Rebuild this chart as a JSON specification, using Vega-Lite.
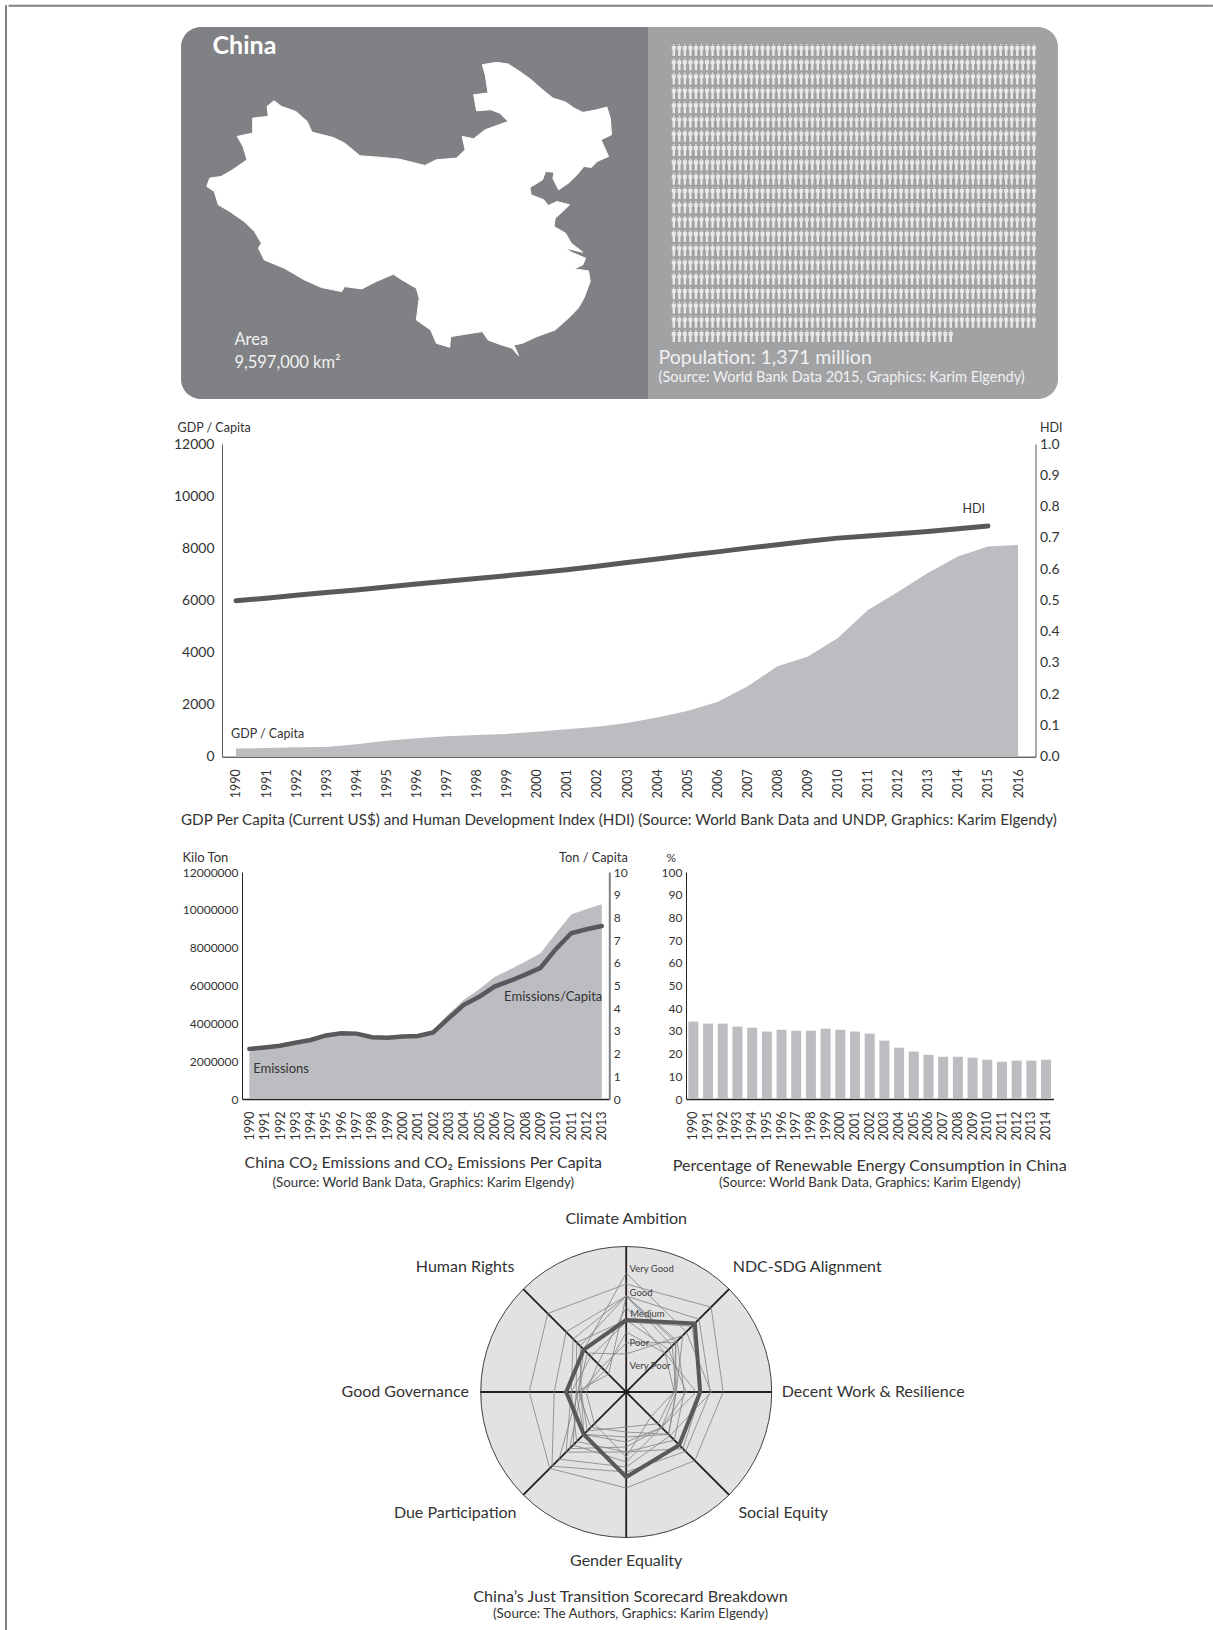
{"$schema":"https://vega.github.io/schema/vega-lite/v6.json","background":"white","padding":{"left":5,"top":4,"right":0,"bottom":0},"config":{"view":{"stroke":null},"font":"Lato","text":{"font":"Lato"},"axis":{"grid":false,"ticks":false,"labelFont":"Lato","titleFont":"Lato","labelColor":"#333333","titleColor":"#333333","titleFontWeight":"normal","labelOverlap":false,"labelFlush":false}},"datasets":{"map":[{"o":0,"x":545,"y":150},{"o":1,"x":570,"y":143},{"o":2,"x":590,"y":148},{"o":3,"x":610,"y":170},{"o":4,"x":630,"y":195},{"o":5,"x":650,"y":225},{"o":6,"x":668,"y":250},{"o":7,"x":690,"y":262},{"o":8,"x":705,"y":280},{"o":9,"x":720,"y":293},{"o":10,"x":745,"y":285},{"o":11,"x":762,"y":277},{"o":12,"x":768,"y":310},{"o":13,"x":770,"y":360},{"o":14,"x":752,"y":375},{"o":15,"x":757,"y":395},{"o":16,"x":765,"y":425},{"o":17,"x":745,"y":440},{"o":18,"x":735,"y":458},{"o":19,"x":722,"y":455},{"o":20,"x":710,"y":480},{"o":21,"x":695,"y":505},{"o":22,"x":678,"y":525},{"o":23,"x":672,"y":505},{"o":24,"x":668,"y":490},{"o":25,"x":670,"y":472},{"o":26,"x":655,"y":470},{"o":27,"x":650,"y":495},{"o":28,"x":628,"y":518},{"o":29,"x":630,"y":540},{"o":30,"x":652,"y":555},{"o":31,"x":660,"y":572},{"o":32,"x":675,"y":560},{"o":33,"x":697,"y":570},{"o":34,"x":685,"y":590},{"o":35,"x":672,"y":610},{"o":36,"x":670,"y":635},{"o":37,"x":690,"y":655},{"o":38,"x":700,"y":685},{"o":39,"x":720,"y":712},{"o":40,"x":690,"y":700},{"o":41,"x":700,"y":712},{"o":42,"x":725,"y":730},{"o":43,"x":720,"y":750},{"o":44,"x":705,"y":762},{"o":45,"x":730,"y":768},{"o":46,"x":733,"y":800},{"o":47,"x":722,"y":850},{"o":48,"x":712,"y":880},{"o":49,"x":695,"y":910},{"o":50,"x":672,"y":945},{"o":51,"x":640,"y":965},{"o":52,"x":615,"y":985},{"o":53,"x":600,"y":990},{"o":54,"x":608,"y":1022},{"o":55,"x":597,"y":1000},{"o":56,"x":575,"y":988},{"o":57,"x":555,"y":975},{"o":58,"x":545,"y":950},{"o":59,"x":515,"y":958},{"o":60,"x":490,"y":965},{"o":61,"x":488,"y":997},{"o":62,"x":465,"y":985},{"o":63,"x":455,"y":945},{"o":64,"x":430,"y":915},{"o":65,"x":435,"y":850},{"o":66,"x":430,"y":820},{"o":67,"x":405,"y":795},{"o":68,"x":390,"y":778},{"o":69,"x":360,"y":800},{"o":70,"x":335,"y":822},{"o":71,"x":305,"y":815},{"o":72,"x":300,"y":830},{"o":73,"x":265,"y":818},{"o":74,"x":235,"y":795},{"o":75,"x":200,"y":760},{"o":76,"x":165,"y":735},{"o":77,"x":155,"y":700},{"o":78,"x":160,"y":685},{"o":79,"x":148,"y":650},{"o":80,"x":130,"y":620},{"o":81,"x":105,"y":590},{"o":82,"x":85,"y":570},{"o":83,"x":78,"y":530},{"o":84,"x":65,"y":515},{"o":85,"x":70,"y":490},{"o":86,"x":90,"y":485},{"o":87,"x":110,"y":465},{"o":88,"x":135,"y":435},{"o":89,"x":128,"y":395},{"o":90,"x":118,"y":365},{"o":91,"x":145,"y":355},{"o":92,"x":145,"y":310},{"o":93,"x":172,"y":305},{"o":94,"x":170,"y":275},{"o":95,"x":182,"y":258},{"o":96,"x":195,"y":275},{"o":97,"x":220,"y":290},{"o":98,"x":240,"y":320},{"o":99,"x":248,"y":352},{"o":100,"x":285,"y":368},{"o":101,"x":305,"y":385},{"o":102,"x":332,"y":423},{"o":103,"x":370,"y":428},{"o":104,"x":400,"y":433},{"o":105,"x":445,"y":452},{"o":106,"x":465,"y":435},{"o":107,"x":500,"y":430},{"o":108,"x":515,"y":405},{"o":109,"x":510,"y":365},{"o":110,"x":530,"y":372},{"o":111,"x":550,"y":345},{"o":112,"x":590,"y":320},{"o":113,"x":575,"y":295},{"o":114,"x":560,"y":285},{"o":115,"x":535,"y":288},{"o":116,"x":530,"y":240},{"o":117,"x":555,"y":235},{"o":118,"x":550,"y":180},{"o":119,"x":545,"y":150}],"gdp":[{"year":1990,"gdp":318},{"year":1991,"gdp":333},{"year":1992,"gdp":366},{"year":1993,"gdp":377},{"year":1994,"gdp":473},{"year":1995,"gdp":610},{"year":1996,"gdp":709},{"year":1997,"gdp":782},{"year":1998,"gdp":829},{"year":1999,"gdp":873},{"year":2000,"gdp":959},{"year":2001,"gdp":1053},{"year":2002,"gdp":1149},{"year":2003,"gdp":1289},{"year":2004,"gdp":1509},{"year":2005,"gdp":1753},{"year":2006,"gdp":2099},{"year":2007,"gdp":2693},{"year":2008,"gdp":3468},{"year":2009,"gdp":3832},{"year":2010,"gdp":4550},{"year":2011,"gdp":5618},{"year":2012,"gdp":6317},{"year":2013,"gdp":7051},{"year":2014,"gdp":7679},{"year":2015,"gdp":8069},{"year":2016,"gdp":8123}],"hdi":[{"year":1990,"hdi":0.499},{"year":1991,"hdi":0.507},{"year":1992,"hdi":0.516},{"year":1993,"hdi":0.525},{"year":1994,"hdi":0.533},{"year":1995,"hdi":0.543},{"year":1996,"hdi":0.552},{"year":1997,"hdi":0.561},{"year":1998,"hdi":0.57},{"year":1999,"hdi":0.579},{"year":2000,"hdi":0.588},{"year":2001,"hdi":0.598},{"year":2002,"hdi":0.609},{"year":2003,"hdi":0.621},{"year":2004,"hdi":0.632},{"year":2005,"hdi":0.644},{"year":2006,"hdi":0.655},{"year":2007,"hdi":0.667},{"year":2008,"hdi":0.678},{"year":2009,"hdi":0.689},{"year":2010,"hdi":0.699},{"year":2011,"hdi":0.706},{"year":2012,"hdi":0.713},{"year":2013,"hdi":0.72},{"year":2014,"hdi":0.729},{"year":2015,"hdi":0.738}],"co2":[{"year":1990,"kt":2500000,"pc":2.2},{"year":1991,"kt":2650000,"pc":2.27},{"year":1992,"kt":2750000,"pc":2.35},{"year":1993,"kt":2930000,"pc":2.48},{"year":1994,"kt":3080000,"pc":2.6},{"year":1995,"kt":3320000,"pc":2.8},{"year":1996,"kt":3440000,"pc":2.9},{"year":1997,"kt":3440000,"pc":2.88},{"year":1998,"kt":3220000,"pc":2.72},{"year":1999,"kt":3200000,"pc":2.7},{"year":2000,"kt":3350000,"pc":2.75},{"year":2001,"kt":3400000,"pc":2.78},{"year":2002,"kt":3650000,"pc":2.93},{"year":2003,"kt":4500000,"pc":3.55},{"year":2004,"kt":5250000,"pc":4.15},{"year":2005,"kt":5800000,"pc":4.5},{"year":2006,"kt":6450000,"pc":4.95},{"year":2007,"kt":6850000,"pc":5.2},{"year":2008,"kt":7250000,"pc":5.48},{"year":2009,"kt":7700000,"pc":5.78},{"year":2010,"kt":8750000,"pc":6.6},{"year":2011,"kt":9750000,"pc":7.3},{"year":2012,"kt":10050000,"pc":7.48},{"year":2013,"kt":10300000,"pc":7.62}],"ren":[{"year":1990,"v":34.1},{"year":1991,"v":33.2},{"year":1992,"v":33.2},{"year":1993,"v":31.9},{"year":1994,"v":31.4},{"year":1995,"v":29.7},{"year":1996,"v":30.5},{"year":1997,"v":30.1},{"year":1998,"v":30.1},{"year":1999,"v":31},{"year":2000,"v":30.5},{"year":2001,"v":29.7},{"year":2002,"v":28.8},{"year":2003,"v":25.7},{"year":2004,"v":22.6},{"year":2005,"v":20.9},{"year":2006,"v":19.5},{"year":2007,"v":18.6},{"year":2008,"v":18.6},{"year":2009,"v":18.2},{"year":2010,"v":17.3},{"year":2011,"v":16.4},{"year":2012,"v":16.9},{"year":2013,"v":16.9},{"year":2014,"v":17.3}],"thin":[{"s":"A","o":0,"x":0,"y":108},{"s":"A","o":1,"x":84.9,"y":84.9},{"s":"A","o":2,"x":97,"y":0},{"s":"A","o":3,"x":68.6,"y":-68.6},{"s":"A","o":4,"x":0,"y":-96},{"s":"A","o":5,"x":-76.4,"y":-76.4},{"s":"A","o":6,"x":-97,"y":0},{"s":"A","o":7,"x":-78.5,"y":78.5},{"s":"A","o":8,"x":0,"y":108},{"s":"B","o":0,"x":0,"y":96},{"s":"B","o":1,"x":72.8,"y":72.8},{"s":"B","o":2,"x":84,"y":0},{"s":"B","o":3,"x":59.4,"y":-59.4},{"s":"B","o":4,"x":0,"y":-80},{"s":"B","o":5,"x":-74.2,"y":-74.2},{"s":"B","o":6,"x":-72,"y":0},{"s":"B","o":7,"x":-60.1,"y":60.1},{"s":"B","o":8,"x":0,"y":96},{"s":"C","o":0,"x":0,"y":119},{"s":"C","o":1,"x":60.1,"y":60.1},{"s":"C","o":2,"x":85,"y":0},{"s":"C","o":3,"x":43.8,"y":-43.8},{"s":"C","o":4,"x":0,"y":-75},{"s":"C","o":5,"x":-67.2,"y":-67.2},{"s":"C","o":6,"x":-48,"y":0},{"s":"C","o":7,"x":-42.4,"y":42.4},{"s":"C","o":8,"x":0,"y":119},{"s":"D","o":0,"x":0,"y":96},{"s":"D","o":1,"x":49.5,"y":49.5},{"s":"D","o":2,"x":50,"y":0},{"s":"D","o":3,"x":35.4,"y":-35.4},{"s":"D","o":4,"x":0,"y":-50},{"s":"D","o":5,"x":-42.4,"y":-42.4},{"s":"D","o":6,"x":-45,"y":0},{"s":"D","o":7,"x":-46,"y":46},{"s":"D","o":8,"x":0,"y":96},{"s":"E","o":0,"x":0,"y":70},{"s":"E","o":1,"x":65.8,"y":65.8},{"s":"E","o":2,"x":75,"y":0},{"s":"E","o":3,"x":56.6,"y":-56.6},{"s":"E","o":4,"x":0,"y":-60},{"s":"E","o":5,"x":-49.5,"y":-49.5},{"s":"E","o":6,"x":-55,"y":0},{"s":"E","o":7,"x":-35.4,"y":35.4},{"s":"E","o":8,"x":0,"y":70},{"s":"F","o":0,"x":0,"y":38},{"s":"F","o":1,"x":56.6,"y":56.6},{"s":"F","o":2,"x":50,"y":0},{"s":"F","o":3,"x":42.4,"y":-42.4},{"s":"F","o":4,"x":0,"y":-40},{"s":"F","o":5,"x":-35.4,"y":-35.4},{"s":"F","o":6,"x":-48,"y":0},{"s":"F","o":7,"x":-38.9,"y":38.9},{"s":"F","o":8,"x":0,"y":38},{"s":"G","o":0,"x":0,"y":49},{"s":"G","o":1,"x":49.5,"y":49.5},{"s":"G","o":2,"x":48,"y":0},{"s":"G","o":3,"x":31.8,"y":-31.8},{"s":"G","o":4,"x":0,"y":-35},{"s":"G","o":5,"x":-38.9,"y":-38.9},{"s":"G","o":6,"x":-45,"y":0},{"s":"G","o":7,"x":-24.7,"y":24.7},{"s":"G","o":8,"x":0,"y":49},{"s":"H","o":0,"x":0,"y":96},{"s":"H","o":1,"x":46,"y":46},{"s":"H","o":2,"x":50,"y":0},{"s":"H","o":3,"x":42.4,"y":-42.4},{"s":"H","o":4,"x":0,"y":-45},{"s":"H","o":5,"x":-42.4,"y":-42.4},{"s":"H","o":6,"x":-50,"y":0},{"s":"H","o":7,"x":-17.7,"y":17.7},{"s":"H","o":8,"x":0,"y":96},{"s":"I","o":0,"x":0,"y":60},{"s":"I","o":1,"x":38.9,"y":38.9},{"s":"I","o":2,"x":70,"y":0},{"s":"I","o":3,"x":35.4,"y":-35.4},{"s":"I","o":4,"x":0,"y":-55},{"s":"I","o":5,"x":-56.6,"y":-56.6},{"s":"I","o":6,"x":-45,"y":0},{"s":"I","o":7,"x":-21.2,"y":21.2},{"s":"I","o":8,"x":0,"y":60},{"s":"J","o":0,"x":0,"y":96},{"s":"J","o":1,"x":50.9,"y":50.9},{"s":"J","o":2,"x":58,"y":0},{"s":"J","o":3,"x":48.1,"y":-48.1},{"s":"J","o":4,"x":0,"y":-60},{"s":"J","o":5,"x":-60.1,"y":-60.1},{"s":"J","o":6,"x":-55,"y":0},{"s":"J","o":7,"x":-53,"y":53},{"s":"J","o":8,"x":0,"y":96},{"s":"K","o":0,"x":0,"y":85},{"s":"K","o":1,"x":38.9,"y":38.9},{"s":"K","o":2,"x":48,"y":0},{"s":"K","o":3,"x":24.7,"y":-24.7},{"s":"K","o":4,"x":0,"y":-65},{"s":"K","o":5,"x":-31.8,"y":-31.8},{"s":"K","o":6,"x":-40,"y":0},{"s":"K","o":7,"x":-28.3,"y":28.3},{"s":"K","o":8,"x":0,"y":85},{"s":"L","o":0,"x":0,"y":72},{"s":"L","o":1,"x":42.4,"y":42.4},{"s":"L","o":2,"x":60,"y":0},{"s":"L","o":3,"x":35.4,"y":-35.4},{"s":"L","o":4,"x":0,"y":-70},{"s":"L","o":5,"x":-53,"y":-53},{"s":"L","o":6,"x":-50,"y":0},{"s":"L","o":7,"x":-49.5,"y":49.5},{"s":"L","o":8,"x":0,"y":72}],"thick":[{"o":0,"x":0,"y":72},{"o":1,"x":68.6,"y":68.6},{"o":2,"x":74,"y":0},{"o":3,"x":53,"y":-53},{"o":4,"x":0,"y":-85},{"o":5,"x":-42.4,"y":-42.4},{"o":6,"x":-60,"y":0},{"o":7,"x":-42.4,"y":42.4},{"o":8,"x":0,"y":72}]},"spacing":0,"hconcat":[{"width":1,"height":1603,"data":{"values":[{"x":0,"y":-22,"y2":1603}]},"mark":{"type":"rule","stroke":"#808285","strokeWidth":2},"encoding":{"x":{"field":"x","type":"quantitative","axis":null,"scale":{"domain":[0,1]}},"y":{"field":"y","type":"quantitative","axis":null,"scale":{"domain":[0,1603],"reverse":true}},"y2":{"field":"y2"}}},{"spacing":0,"vconcat":[{"width":877,"height":372,"resolve":{"scale":{"x":"independent","y":"independent"}},"layer":[{"data":{"values":[{"x":20,"x2":835,"y":37,"y2":1152}]},"mark":{"type":"rect","fill":"#808184","cornerRadiusTopLeft":20,"cornerRadiusBottomLeft":20},"encoding":{"x":{"field":"x","type":"quantitative","axis":null,"scale":{"domain":[20,1548]}},"x2":{"field":"x2"},"y":{"field":"y","type":"quantitative","axis":null,"scale":{"domain":[37,1152],"reverse":true}},"y2":{"field":"y2"}}},{"data":{"values":[{"x":835,"x2":1548,"y":37,"y2":1152}]},"mark":{"type":"rect","fill":"#a1a2a4","cornerRadiusTopRight":20,"cornerRadiusBottomRight":20},"encoding":{"x":{"field":"x","type":"quantitative","axis":null,"scale":{"domain":[20,1548]}},"x2":{"field":"x2"},"y":{"field":"y","type":"quantitative","axis":null,"scale":{"domain":[37,1152],"reverse":true}},"y2":{"field":"y2"}}},{"data":{"name":"map"},"mark":{"type":"line","fill":"#ffffff","stroke":"#ffffff","strokeWidth":1,"filled":true},"encoding":{"x":{"field":"x","type":"quantitative","axis":null,"scale":{"domain":[20,1548]}},"y":{"field":"y","type":"quantitative","axis":null,"scale":{"domain":[37,1152],"reverse":true}},"order":{"field":"o"}}},{"data":{"values":[{"r":0,"c":[0,1,2,3,4,5,6,7,8,9,10,11,12,13,14,15,16,17,18,19,20,21,22,23,24,25,26,27,28,29,30,31,32,33,34,35,36,37,38,39,40,41,42,43,44,45,46,47,48,49,50,51,52,53,54,55,56,57,58,59,60,61,62,63,64,65]},{"r":1,"c":[0,1,2,3,4,5,6,7,8,9,10,11,12,13,14,15,16,17,18,19,20,21,22,23,24,25,26,27,28,29,30,31,32,33,34,35,36,37,38,39,40,41,42,43,44,45,46,47,48,49,50,51,52,53,54,55,56,57,58,59,60,61,62,63,64,65]},{"r":2,"c":[0,1,2,3,4,5,6,7,8,9,10,11,12,13,14,15,16,17,18,19,20,21,22,23,24,25,26,27,28,29,30,31,32,33,34,35,36,37,38,39,40,41,42,43,44,45,46,47,48,49,50,51,52,53,54,55,56,57,58,59,60,61,62,63,64,65]},{"r":3,"c":[0,1,2,3,4,5,6,7,8,9,10,11,12,13,14,15,16,17,18,19,20,21,22,23,24,25,26,27,28,29,30,31,32,33,34,35,36,37,38,39,40,41,42,43,44,45,46,47,48,49,50,51,52,53,54,55,56,57,58,59,60,61,62,63,64,65]},{"r":4,"c":[0,1,2,3,4,5,6,7,8,9,10,11,12,13,14,15,16,17,18,19,20,21,22,23,24,25,26,27,28,29,30,31,32,33,34,35,36,37,38,39,40,41,42,43,44,45,46,47,48,49,50,51,52,53,54,55,56,57,58,59,60,61,62,63,64,65]},{"r":5,"c":[0,1,2,3,4,5,6,7,8,9,10,11,12,13,14,15,16,17,18,19,20,21,22,23,24,25,26,27,28,29,30,31,32,33,34,35,36,37,38,39,40,41,42,43,44,45,46,47,48,49,50,51,52,53,54,55,56,57,58,59,60,61,62,63,64,65]},{"r":6,"c":[0,1,2,3,4,5,6,7,8,9,10,11,12,13,14,15,16,17,18,19,20,21,22,23,24,25,26,27,28,29,30,31,32,33,34,35,36,37,38,39,40,41,42,43,44,45,46,47,48,49,50,51,52,53,54,55,56,57,58,59,60,61,62,63,64,65]},{"r":7,"c":[0,1,2,3,4,5,6,7,8,9,10,11,12,13,14,15,16,17,18,19,20,21,22,23,24,25,26,27,28,29,30,31,32,33,34,35,36,37,38,39,40,41,42,43,44,45,46,47,48,49,50,51,52,53,54,55,56,57,58,59,60,61,62,63,64,65]},{"r":8,"c":[0,1,2,3,4,5,6,7,8,9,10,11,12,13,14,15,16,17,18,19,20,21,22,23,24,25,26,27,28,29,30,31,32,33,34,35,36,37,38,39,40,41,42,43,44,45,46,47,48,49,50,51,52,53,54,55,56,57,58,59,60,61,62,63,64,65]},{"r":9,"c":[0,1,2,3,4,5,6,7,8,9,10,11,12,13,14,15,16,17,18,19,20,21,22,23,24,25,26,27,28,29,30,31,32,33,34,35,36,37,38,39,40,41,42,43,44,45,46,47,48,49,50,51,52,53,54,55,56,57,58,59,60,61,62,63,64,65]},{"r":10,"c":[0,1,2,3,4,5,6,7,8,9,10,11,12,13,14,15,16,17,18,19,20,21,22,23,24,25,26,27,28,29,30,31,32,33,34,35,36,37,38,39,40,41,42,43,44,45,46,47,48,49,50,51,52,53,54,55,56,57,58,59,60,61,62,63,64,65]},{"r":11,"c":[0,1,2,3,4,5,6,7,8,9,10,11,12,13,14,15,16,17,18,19,20,21,22,23,24,25,26,27,28,29,30,31,32,33,34,35,36,37,38,39,40,41,42,43,44,45,46,47,48,49,50,51,52,53,54,55,56,57,58,59,60,61,62,63,64,65]},{"r":12,"c":[0,1,2,3,4,5,6,7,8,9,10,11,12,13,14,15,16,17,18,19,20,21,22,23,24,25,26,27,28,29,30,31,32,33,34,35,36,37,38,39,40,41,42,43,44,45,46,47,48,49,50,51,52,53,54,55,56,57,58,59,60,61,62,63,64,65]},{"r":13,"c":[0,1,2,3,4,5,6,7,8,9,10,11,12,13,14,15,16,17,18,19,20,21,22,23,24,25,26,27,28,29,30,31,32,33,34,35,36,37,38,39,40,41,42,43,44,45,46,47,48,49,50,51,52,53,54,55,56,57,58,59,60,61,62,63,64,65]},{"r":14,"c":[0,1,2,3,4,5,6,7,8,9,10,11,12,13,14,15,16,17,18,19,20,21,22,23,24,25,26,27,28,29,30,31,32,33,34,35,36,37,38,39,40,41,42,43,44,45,46,47,48,49,50,51,52,53,54,55,56,57,58,59,60,61,62,63,64,65]},{"r":15,"c":[0,1,2,3,4,5,6,7,8,9,10,11,12,13,14,15,16,17,18,19,20,21,22,23,24,25,26,27,28,29,30,31,32,33,34,35,36,37,38,39,40,41,42,43,44,45,46,47,48,49,50,51,52,53,54,55,56,57,58,59,60,61,62,63,64,65]},{"r":16,"c":[0,1,2,3,4,5,6,7,8,9,10,11,12,13,14,15,16,17,18,19,20,21,22,23,24,25,26,27,28,29,30,31,32,33,34,35,36,37,38,39,40,41,42,43,44,45,46,47,48,49,50,51,52,53,54,55,56,57,58,59,60,61,62,63,64,65]},{"r":17,"c":[0,1,2,3,4,5,6,7,8,9,10,11,12,13,14,15,16,17,18,19,20,21,22,23,24,25,26,27,28,29,30,31,32,33,34,35,36,37,38,39,40,41,42,43,44,45,46,47,48,49,50,51,52,53,54,55,56,57,58,59,60,61,62,63,64,65]},{"r":18,"c":[0,1,2,3,4,5,6,7,8,9,10,11,12,13,14,15,16,17,18,19,20,21,22,23,24,25,26,27,28,29,30,31,32,33,34,35,36,37,38,39,40,41,42,43,44,45,46,47,48,49,50,51,52,53,54,55,56,57,58,59,60,61,62,63,64,65]},{"r":19,"c":[0,1,2,3,4,5,6,7,8,9,10,11,12,13,14,15,16,17,18,19,20,21,22,23,24,25,26,27,28,29,30,31,32,33,34,35,36,37,38,39,40,41,42,43,44,45,46,47,48,49,50,51,52,53,54,55,56,57,58,59,60,61,62,63,64,65]},{"r":20,"c":[0,1,2,3,4,5,6,7,8,9,10,11,12,13,14,15,16,17,18,19,20,21,22,23,24,25,26,27,28,29,30,31,32,33,34,35,36,37,38,39,40,41,42,43,44,45,46,47,48,49,50]}]},"transform":[{"flatten":["c"]}],"mark":{"type":"point","filled":true,"fill":"#e9e9ea","opacity":1,"size":144,"shape":"M-0.1,-1 L0.1,-1 L0.1,-0.74 L-0.1,-0.74 Z M-0.34,-0.68 L0.34,-0.68 L0.34,-0.05 L0.2,-0.05 L0.2,1 L-0.2,1 L-0.2,-0.05 L-0.34,-0.05 Z"},"encoding":{"x":{"field":"c","type":"quantitative","axis":null,"scale":{"domain":[-88.95,69.35]}},"y":{"field":"r","type":"quantitative","axis":null,"scale":{"domain":[-1.608,24.4],"reverse":true}}}},{"data":{"values":[{"x":75,"y":95,"t":"China"}]},"mark":{"type":"text","align":"left","baseline":"middle","fontSize":25,"fontWeight":"bold","fill":"#ffffff"},"encoding":{"x":{"field":"x","type":"quantitative","axis":null,"scale":{"domain":[20,1548]}},"y":{"field":"y","type":"quantitative","axis":null,"scale":{"domain":[37,1152],"reverse":true}},"text":{"field":"t"}}},{"data":{"values":[{"x":113,"y":975,"t":"Area"},{"x":113,"y":1045,"t":"9,597,000 km²"}]},"mark":{"type":"text","align":"left","baseline":"middle","fontSize":16.5,"fill":"#f1f1f2"},"encoding":{"x":{"field":"x","type":"quantitative","axis":null,"scale":{"domain":[20,1548]}},"y":{"field":"y","type":"quantitative","axis":null,"scale":{"domain":[37,1152],"reverse":true}},"text":{"field":"t"}}},{"data":{"values":[{"x":852,"y":1030,"t":"Population: 1,371 million"}]},"mark":{"type":"text","align":"left","baseline":"middle","fontSize":19.5,"fill":"#f1f1f2"},"encoding":{"x":{"field":"x","type":"quantitative","axis":null,"scale":{"domain":[20,1548]}},"y":{"field":"y","type":"quantitative","axis":null,"scale":{"domain":[37,1152],"reverse":true}},"text":{"field":"t"}}},{"data":{"values":[{"x":852,"y":1090,"t":"(Source: World Bank Data 2015, Graphics: Karim Elgendy)"}]},"mark":{"type":"text","align":"left","baseline":"middle","fontSize":14.5,"fill":"#f1f1f2"},"encoding":{"x":{"field":"x","type":"quantitative","axis":null,"scale":{"domain":[20,1548]}},"y":{"field":"y","type":"quantitative","axis":null,"scale":{"domain":[37,1152],"reverse":true}},"text":{"field":"t"}}},{"data":{"values":[{"x":-280.5,"x2":1818,"y":-27}]},"mark":{"type":"rule","stroke":"#808285","strokeWidth":2},"encoding":{"x":{"field":"x","type":"quantitative","axis":null,"scale":{"domain":[20,1548]}},"x2":{"field":"x2"},"y":{"field":"y","type":"quantitative","axis":null,"scale":{"domain":[37,1152],"reverse":true}}}}]},{"width":10,"height":22,"data":{"values":[{"a":0}]},"mark":{"type":"point","opacity":0},"encoding":{}},{"bounds":"flush","spacing":0,"hconcat":[{"width":40.5,"height":1,"data":{"values":[{"a":0}]},"mark":{"type":"point","opacity":0},"encoding":{}},{"width":813.5,"height":312.7,"resolve":{"scale":{"y":"independent"},"axis":{"y":"independent"}},"encoding":{"x":{"field":"year","type":"quantitative","scale":{"domain":[1989.535,2016.58],"nice":false,"zero":false},"axis":{"title":null,"values":[1990,1991,1992,1993,1994,1995,1996,1997,1998,1999,2000,2001,2002,2003,2004,2005,2006,2007,2008,2009,2010,2011,2012,2013,2014,2015,2016],"format":"d","labelAngle":270,"labelAlign":"right","labelBaseline":"middle","labelPadding":12,"labelFontSize":12.5,"domainColor":"#231f20","domainWidth":1}}},"layer":[{"data":{"name":"gdp"},"mark":{"type":"area","color":"#bcbdc0"},"encoding":{"y":{"field":"gdp","type":"quantitative","scale":{"domain":[0,12000]},"axis":{"orient":"left","values":[0,2000,4000,6000,8000,10000,12000],"format":"d","labelFontSize":14,"labelPadding":8,"domainColor":"#58595b","title":"GDP / Capita","titleAngle":0,"titleAlign":"left","titleBaseline":"alphabetic","titleX":-45,"titleY":-13,"titleFontSize":12.5}}}},{"data":{"name":"hdi"},"mark":{"type":"line","color":"#58595b","strokeWidth":5,"strokeCap":"round"},"encoding":{"y":{"field":"hdi","type":"quantitative","scale":{"domain":[0,1]},"axis":{"orient":"right","values":[0,0.1,0.2,0.3,0.4,0.5,0.6,0.7,0.8,0.9,1],"format":".1f","labelFontSize":14,"labelPadding":4,"domainColor":"#58595b","title":"HDI","titleAngle":0,"titleAlign":"left","titleBaseline":"alphabetic","titleX":4,"titleY":-13,"titleFontSize":12.5}}}},{"data":{"values":[{"year":2014.53,"v":0.792,"t":"HDI"}]},"mark":{"type":"text","fontSize":12.5,"fill":"#333333"},"encoding":{"y":{"field":"v","type":"quantitative","axis":null,"scale":{"domain":[0,1]}},"text":{"field":"t"}}},{"data":{"values":[{"year":1991.05,"v":870,"t":"GDP / Capita"}]},"mark":{"type":"text","fontSize":12.5,"fill":"#333333"},"encoding":{"y":{"field":"v","type":"quantitative","axis":null,"scale":{"domain":[0,12000]}},"text":{"field":"t"}}},{"data":{"values":[{"year":2002.73,"v":-2430,"t":"GDP Per Capita (Current US$) and Human Development Index (HDI) (Source: World Bank Data and UNDP, Graphics: Karim Elgendy)"}]},"mark":{"type":"text","fontSize":15.2,"fill":"#333333"},"encoding":{"y":{"field":"v","type":"quantitative","axis":null,"scale":{"domain":[0,12000]}},"text":{"field":"t"}}}]}]},{"width":10,"height":21.5,"data":{"values":[{"a":0}]},"mark":{"type":"point","opacity":0},"encoding":{}},{"bounds":"flush","spacing":0,"hconcat":[{"width":60.2,"height":1,"data":{"values":[{"a":0}]},"mark":{"type":"point","opacity":0},"encoding":{}},{"width":367.3,"height":227,"resolve":{"scale":{"y":"independent"},"axis":{"y":"independent"}},"encoding":{"x":{"field":"year","type":"quantitative","scale":{"domain":[1989.52,2013.49],"nice":false,"zero":false},"axis":{"title":null,"values":[1990,1991,1992,1993,1994,1995,1996,1997,1998,1999,2000,2001,2002,2003,2004,2005,2006,2007,2008,2009,2010,2011,2012,2013],"format":"d","labelAngle":270,"labelAlign":"right","labelBaseline":"middle","labelPadding":12,"labelFontSize":12.5,"domainColor":"#231f20","domainWidth":1.5}}},"layer":[{"data":{"name":"co2"},"mark":{"type":"area","color":"#bcbdc0"},"encoding":{"y":{"field":"kt","type":"quantitative","scale":{"domain":[0,12000000]},"axis":{"orient":"left","values":[0,2000000,4000000,6000000,8000000,10000000,12000000],"format":"d","labelFontSize":12,"labelPadding":4,"domainColor":"#231f20","title":"Kilo Ton","titleAngle":0,"titleAlign":"left","titleBaseline":"alphabetic","titleX":-60,"titleY":-11,"titleFontSize":13}}}},{"data":{"name":"co2"},"mark":{"type":"line","color":"#58595b","strokeWidth":4.5,"strokeCap":"round"},"encoding":{"y":{"field":"pc","type":"quantitative","scale":{"domain":[0,10]},"axis":{"orient":"right","values":[0,1,2,3,4,5,6,7,8,9,10],"format":"d","labelFontSize":12,"labelPadding":4,"domainColor":"#808285","domainWidth":2,"title":"Ton / Capita","titleAngle":0,"titleAlign":"right","titleBaseline":"alphabetic","titleX":18,"titleY":-11,"titleFontSize":12.8}}}},{"data":{"values":[{"year":1992.07,"v":1600000,"t":"Emissions"},{"year":2009.83,"v":5410000,"t":"Emissions/Capita"}]},"mark":{"type":"text","fontSize":13,"fill":"#333333"},"encoding":{"y":{"field":"v","type":"quantitative","axis":null,"scale":{"domain":[0,12000000]}},"text":{"field":"t"}}},{"data":{"values":[{"year":2001.35,"v":-3383000,"t":"China CO₂ Emissions and CO₂ Emissions Per Capita"}]},"mark":{"type":"text","fontSize":16,"fill":"#333333"},"encoding":{"y":{"field":"v","type":"quantitative","axis":null,"scale":{"domain":[0,12000000]}},"text":{"field":"t"}}},{"data":{"values":[{"year":2001.35,"v":-4440000,"t":"(Source: World Bank Data, Graphics: Karim Elgendy)"}]},"mark":{"type":"text","fontSize":13.3,"fill":"#333333"},"encoding":{"y":{"field":"v","type":"quantitative","axis":null,"scale":{"domain":[0,12000000]}},"text":{"field":"t"}}}]},{"width":75.3,"height":1,"data":{"values":[{"a":0}]},"mark":{"type":"point","opacity":0},"encoding":{}},{"width":367.4,"height":227,"resolve":{"scale":{"y":"independent"},"axis":{"y":"independent"}},"encoding":{"x":{"field":"year","type":"ordinal","scale":{"paddingInner":0.32,"paddingOuter":0.16},"axis":{"title":null,"labelAngle":270,"labelAlign":"right","labelBaseline":"middle","labelPadding":12,"labelFontSize":12.5,"domainColor":"#231f20","domainWidth":1.5}}},"layer":[{"data":{"name":"ren"},"mark":{"type":"bar","color":"#bcbdc0"},"encoding":{"y":{"field":"v","type":"quantitative","scale":{"domain":[0,100]},"axis":{"orient":"left","values":[0,10,20,30,40,50,60,70,80,90,100],"format":"d","labelFontSize":12,"labelPadding":4,"domainColor":"#231f20","title":"%","titleAngle":0,"titleAlign":"left","titleBaseline":"alphabetic","titleX":-20,"titleY":-11,"titleFontSize":12}}}},{"data":{"values":[{"year":2002,"v":-29.4,"t":"Percentage of Renewable Energy Consumption in China"}]},"mark":{"type":"text","fontSize":16.2,"fill":"#333333"},"encoding":{"y":{"field":"v","type":"quantitative","axis":null,"scale":{"domain":[0,100]}},"text":{"field":"t"}}},{"data":{"values":[{"year":2002,"v":-37.1,"t":"(Source: World Bank Data, Graphics: Karim Elgendy)"}]},"mark":{"type":"text","fontSize":13.3,"fill":"#333333"},"encoding":{"y":{"field":"v","type":"quantitative","axis":null,"scale":{"domain":[0,100]}},"text":{"field":"t"}}}]}]},{"width":10,"height":16,"data":{"values":[{"a":0}]},"mark":{"type":"point","opacity":0},"encoding":{}},{"width":877,"height":420,"encoding":{"x":{"field":"x","type":"quantitative","axis":null,"scale":{"domain":[-445.2,431.8]}},"y":{"field":"y","type":"quantitative","axis":null,"scale":{"domain":[-234,186]}}},"layer":[{"data":{"values":[{"x":0,"y":0}]},"mark":{"type":"point","filled":true,"size":84681,"fill":"#e1e2e1","stroke":"#414042","strokeWidth":1,"opacity":1}},{"data":{"values":[{"x":0,"y":145.5,"x2":0,"y2":-145.5},{"x":145.5,"y":0,"x2":-145.5,"y2":0},{"x":102.9,"y":102.9,"x2":-102.9,"y2":-102.9},{"x":-102.9,"y":102.9,"x2":102.9,"y2":-102.9}]},"mark":{"type":"rule","stroke":"#231f20","strokeWidth":1.8},"encoding":{"x2":{"field":"x2"},"y2":{"field":"y2"}}},{"data":{"name":"thin"},"mark":{"type":"line","stroke":"#808285","strokeWidth":0.8},"encoding":{"detail":{"field":"s"},"order":{"field":"o"}}},{"data":{"name":"thick"},"mark":{"type":"line","stroke":"#58595b","strokeWidth":4,"strokeJoin":"round"},"encoding":{"order":{"field":"o"}}},{"data":{"values":[{"x":3.3,"y":123,"t":"Very Good"},{"x":3.3,"y":98.7,"t":"Good"},{"x":4,"y":78,"t":"Medium"},{"x":3.3,"y":49.3,"t":"Poor"},{"x":3.3,"y":26,"t":"Very Poor"}]},"mark":{"type":"text","align":"left","fontSize":9.5,"fill":"#414042"},"encoding":{"text":{"field":"t"}}},{"data":{"values":[{"x":0,"y":173,"t":"Climate Ambition"},{"x":181,"y":125,"t":"NDC-SDG Alignment"},{"x":247,"y":0,"t":"Decent Work & Resilience"},{"x":157,"y":-121,"t":"Social Equity"},{"x":0,"y":-169,"t":"Gender Equality"},{"x":-171,"y":-121,"t":"Due Participation"},{"x":-221,"y":0,"t":"Good Governance"},{"x":-161,"y":125,"t":"Human Rights"}]},"mark":{"type":"text","fontSize":16,"fill":"#333333"},"encoding":{"text":{"field":"t"}}},{"data":{"values":[{"x":4.3,"y":-204.5,"t":"China’s Just Transition Scorecard Breakdown"}]},"mark":{"type":"text","fontSize":16.2,"fill":"#333333"},"encoding":{"text":{"field":"t"}}},{"data":{"values":[{"x":4.3,"y":-222,"t":"(Source: The Authors, Graphics: Karim Elgendy)"}]},"mark":{"type":"text","fontSize":13.4,"fill":"#333333"},"encoding":{"text":{"field":"t"}}}]}]}]}
